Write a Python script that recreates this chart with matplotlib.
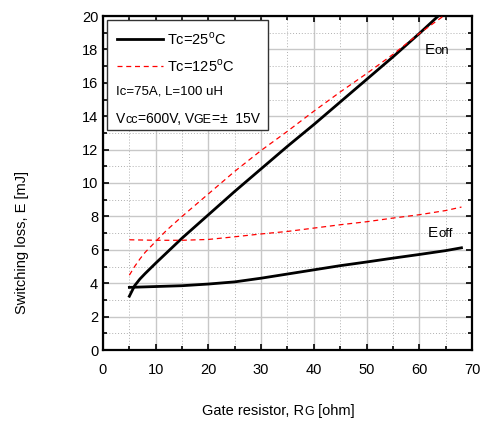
import numpy as np
import matplotlib
matplotlib.use("Agg")
import matplotlib.pyplot as plt
from matplotlib.patches import Rectangle
from matplotlib.lines import Line2D

plt.rcParams['font.family'] = ['Liberation Sans', 'DejaVu Sans']

# gate resistance [ohm] and switching losses [mJ]
rg_on25 = [5, 6, 7, 8, 10, 12, 15, 20, 25, 30, 35, 40, 45, 50, 55, 60, 63.6]
eon_25 = [3.22, 3.85, 4.25, 4.58, 5.2, 5.8, 6.7, 8.1, 9.5, 10.85, 12.2, 13.5,
          14.85, 16.2, 17.55, 18.95, 20.0]
rg_on125 = [5, 6, 7, 8, 10, 12, 15, 20, 25, 30, 35, 40, 45, 50, 55, 60, 64.6]
eon_125 = [4.48, 5.0, 5.45, 5.85, 6.5, 7.15, 8.0, 9.35, 10.7, 11.95, 13.1, 14.3,
           15.45, 16.55, 17.7, 18.95, 20.0]
rg_off = [5, 10, 15, 20, 25, 30, 35, 40, 45, 50, 55, 60, 65, 68]
eoff_25 = [3.75, 3.8, 3.85, 3.95, 4.08, 4.3, 4.55, 4.8, 5.05, 5.27, 5.5, 5.72, 5.95, 6.12]
eoff_125 = [6.6, 6.57, 6.57, 6.62, 6.78, 6.95, 7.1, 7.3, 7.5, 7.68, 7.9, 8.1, 8.35, 8.56]

fig = plt.figure(figsize=(4.85, 4.28), dpi=100)
ax = fig.add_axes([103/485, 1-350/428, 369/485, 334/428])

red_dash = dict(color='red', lw=0.9, dashes=(4, 3))
ax.plot(rg_on25, eon_25, color='black', lw=2.0, zorder=3)
ax.plot(rg_off, eoff_25, color='black', lw=2.0, zorder=3)
ax.plot(rg_on125, eon_125, zorder=3, **red_dash)
ax.plot(rg_off, eoff_125, zorder=3, **red_dash)

ax.set_xlim(0, 70)
ax.set_ylim(0, 20)
ax.set_xticks(np.arange(0, 71, 10))
ax.set_yticks(np.arange(0, 21, 2))
ax.set_xticks(np.arange(0, 71, 5), minor=True)
ax.set_yticks(np.arange(0, 21, 1), minor=True)
ax.grid(which='major', color='#c8c8c8', lw=1.0, zorder=0)
ax.grid(which='minor', color='#b0b0b0', lw=0.7, ls=(0, (1, 2)), zorder=0)
ax.tick_params(which='both', direction='in', top=True, right=True, width=1.2)
ax.tick_params(which='major', length=4, labelsize=10.5)
ax.tick_params(which='minor', length=3)
ax.tick_params(axis='x', pad=9)
ax.tick_params(axis='y', pad=3.5)
for sp in ax.spines.values():
    sp.set_linewidth(1.6)


def chain(x, y, pieces, coords):
    # pieces of text put one after another, like sub-sized letters
    s, fs = pieces[0]
    t = ax.annotate(s, xy=(x, y), xycoords=coords, fontsize=fs, zorder=6,
                    va='baseline', ha='left', annotation_clip=False)
    for s, fs in pieces[1:]:
        t = ax.annotate(s, xy=(1, 0), xycoords=t, fontsize=fs, zorder=6,
                        va='bottom', ha='left', annotation_clip=False)
    return t


# legend box
box = Rectangle((4/369, 1-114/334), 161/369, 110/334, transform=ax.transAxes,
                facecolor='white', edgecolor='#333333', lw=1.0, zorder=4)
ax.add_patch(box)
ax.add_line(Line2D([14/369, 60/369], [1-23/334, 1-23/334], transform=ax.transAxes,
                   color='black', lw=2.0, zorder=5))
ax.add_line(Line2D([14/369, 60/369], [1-50/334, 1-50/334], transform=ax.transAxes,
                   zorder=5, **red_dash))
ax.text(64/369, 1-23/334, 'Tc=25$^\\mathregular{o}$C', transform=ax.transAxes,
        fontsize=10.5, va='center', zorder=6)
ax.text(64/369, 1-50/334, 'Tc=125$^\\mathregular{o}$C', transform=ax.transAxes,
        fontsize=10.5, va='center', zorder=6)
ax.text(13/369, 1-76/334, 'Ic=75A, L=100 uH', transform=ax.transAxes,
        fontsize=9.5, va='center', zorder=6)
chain(13/369, 1-107/334, [('V', 10), ('cc', 9), ('=600V, V', 10),
                          ('GE', 9), ('=\u00b1  15V', 10)], 'axes fraction')

# curve names
chain(61.0, 17.7, [('E', 11), ('on', 9.5)], 'data')
chain(61.7, 6.75, [('E', 11), ('off', 9.5)], 'data')

# axis titles
fig.text(22/485, 185/428, 'Switching loss, E [mJ]', rotation=90,
         fontsize=10.5, ha='center', va='center')
t = ax.annotate('Gate resistor, R', xy=(202/485, 1-415/428), xycoords='figure fraction',
                fontsize=10.5, va='baseline', annotation_clip=False)
t = ax.annotate('G', xy=(1, 0), xycoords=t, fontsize=9, va='bottom', annotation_clip=False)
ax.annotate(' [ohm]', xy=(1, 0), xycoords=t, fontsize=10.5, va='bottom', annotation_clip=False)

fig.savefig('out.png', dpi=100)
